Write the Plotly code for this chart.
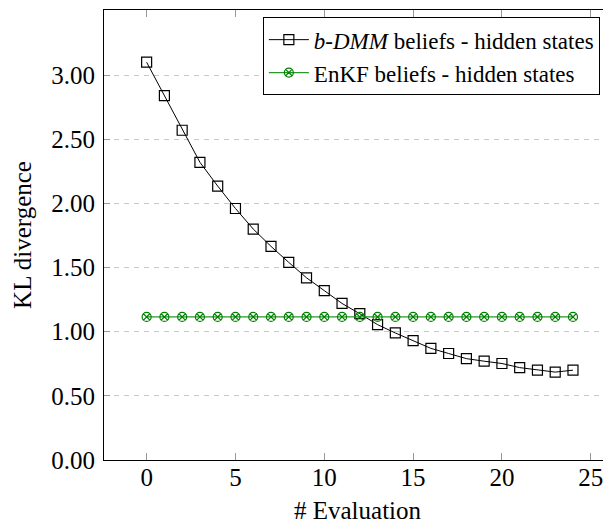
import plotly.graph_objects as go

evaluation = list(range(25))
bdmm_kl = [3.10, 2.84, 2.57, 2.32, 2.135, 1.96, 1.80, 1.665, 1.54, 1.42, 1.32, 1.22, 1.14,
           1.055, 0.99, 0.93, 0.87, 0.83, 0.79, 0.77, 0.752, 0.72, 0.70, 0.685, 0.70]
enkf_kl = [1.115] * 25
x_ticks = [0, 5, 10, 15, 20, 25]
y_ticks = [0.0, 0.5, 1.0, 1.5, 2.0, 2.5, 3.0]

FONT = "'Liberation Serif', 'Times New Roman', 'DejaVu Serif', serif"

fig = go.Figure()
fig.add_trace(go.Scatter(
    x=evaluation, y=bdmm_kl, mode="lines+markers",
    name="<i>b-DMM</i> beliefs - hidden states",
    line=dict(color="black", width=1),
    marker=dict(symbol="square-open", size=10, color="black", line=dict(width=1.2, color="black")),
))
fig.add_trace(go.Scatter(
    x=evaluation, y=enkf_kl, mode="lines+markers",
    name="EnKF beliefs - hidden states",
    line=dict(color="rgb(40,150,40)", width=1.3),
    marker=dict(symbol="circle-x-open", size=9, color="rgb(0,128,0)", line=dict(width=1.2, color="rgb(0,128,0)")),
))

# The page body adds an 8px margin, so the figure is 8px smaller than the window.
fig.update_layout(
    width=603, height=517,
    margin=dict(l=96, r=0, t=2, b=65),
    paper_bgcolor="white", plot_bgcolor="white",
    font=dict(family=FONT, size=25, color="black"),
    showlegend=True,
    legend=dict(
        x=0.978, xanchor="right", y=0.984, yanchor="top",
        bgcolor="white", bordercolor="black", borderwidth=1,
        font=dict(family=FONT, size=23, color="black"),
        tracegroupgap=0, itemwidth=40,
    ),
    annotations=[dict(
        text="# Evaluation", xref="paper", yref="paper", x=0.5, y=-0.113,
        xanchor="center", yanchor="middle", showarrow=False,
        font=dict(family=FONT, size=25, color="black"),
    )],
)
fig.update_xaxes(
    range=[-2.4, 26.14], tickvals=x_ticks, ticks="inside", ticklen=7,
    tickcolor="#999999", tickwidth=1,
    showline=True, linecolor="black", linewidth=1.2, mirror="ticks",
    showgrid=False, zeroline=False,
    ticklabelstandoff=-5,
)
fig.update_yaxes(
    range=[0, 3.507], tickvals=y_ticks, tickformat=".2f", ticks="inside", ticklen=6,
    tickcolor="#999999", tickwidth=1,
    showline=True, linecolor="black", linewidth=1.2, mirror=False,
    showgrid=True, gridcolor="#c8c8c8", gridwidth=1, griddash="5px,5px",
    zeroline=False,
    ticklabelstandoff=3,
    title=dict(text="KL divergence", font=dict(family=FONT, size=25), standoff=12),
)

fig.write_html("out.html")
